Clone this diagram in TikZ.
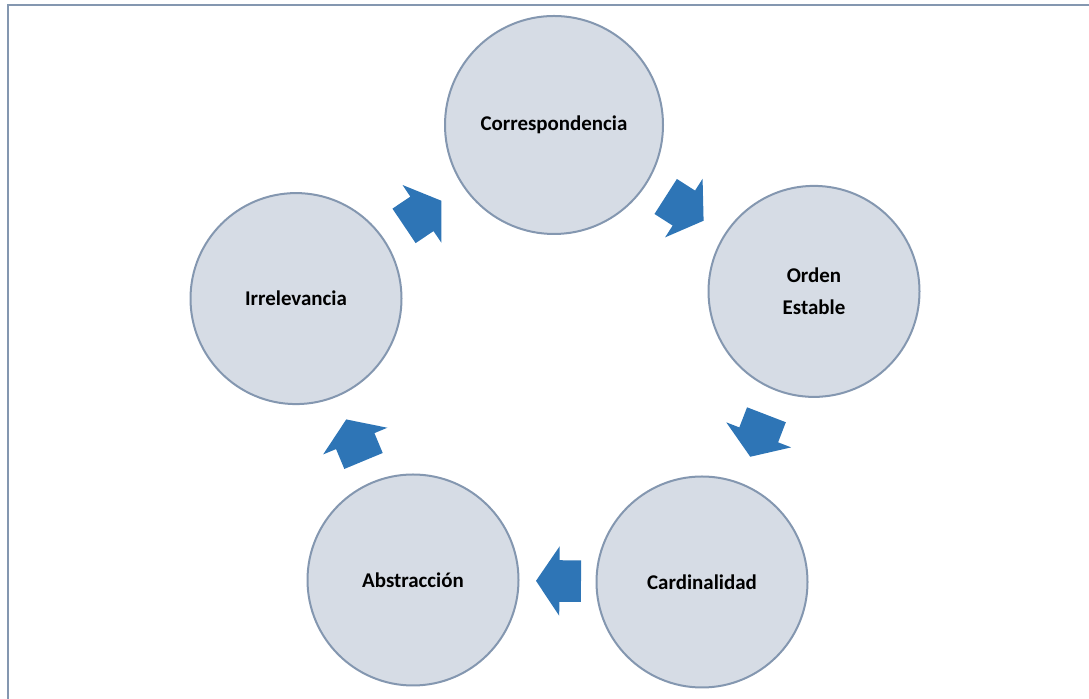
\documentclass[tikz,border=0pt]{standalone}
\usepackage{fontspec}
\setmainfont{Carlito}
\usetikzlibrary{shapes.arrows}

\definecolor{ringfill}{HTML}{D6DCE5}
\definecolor{ringline}{HTML}{8497B0}
\definecolor{arrowblue}{HTML}{2E75B6}

\tikzset{
	stage/.style={circle, draw=ringline, line width=0.05cm, fill=ringfill,
		minimum size=5.275cm, inner sep=0pt, align=center,
		font=\fontsize{14.9}{22.7}\selectfont\bfseries},
	blockarrow/.style={single arrow, fill=arrowblue, sloped, allow upside down,
		inner xsep=0pt, inner ysep=0.5125cm, minimum height=1.125cm,
		single arrow head extend=0.35cm, single arrow tip angle=112, xshift=-0.2cm}
}

\begin{document}
\begin{tikzpicture}
				\useasboundingbox (0,0) rectangle (27.225,17.475);
				\draw[ringline, line width=0.05cm] (0.1875,0) -- (0.1875,17.36) -- (27.225,17.36);
				
				\node[stage, minimum size=5.45cm] (corr) at (13.85,14.35) {Correspondencia};
				\node[stage] (orden) at (20.35,10.19) {Orden\\Estable};
				\node[stage] (card) at (17.55,2.925) {Cardinalidad};
				\node[stage] (abs) at (10.325,2.975) {Abstracción};
				\node[stage] (irr) at (7.4,10.01) {Irrelevancia};
				
				\path (irr) -- node[blockarrow] (a1) {} (corr);
				\path (corr) -- node[blockarrow] (a2) {} (orden);
				\path (orden) -- node[blockarrow] (a3) {} (card);
				\path (card) -- node[blockarrow] (a4) {} (abs);
				\path (abs) -- node[blockarrow] (a5) {} (irr);
				\end{tikzpicture}
\end{document}
